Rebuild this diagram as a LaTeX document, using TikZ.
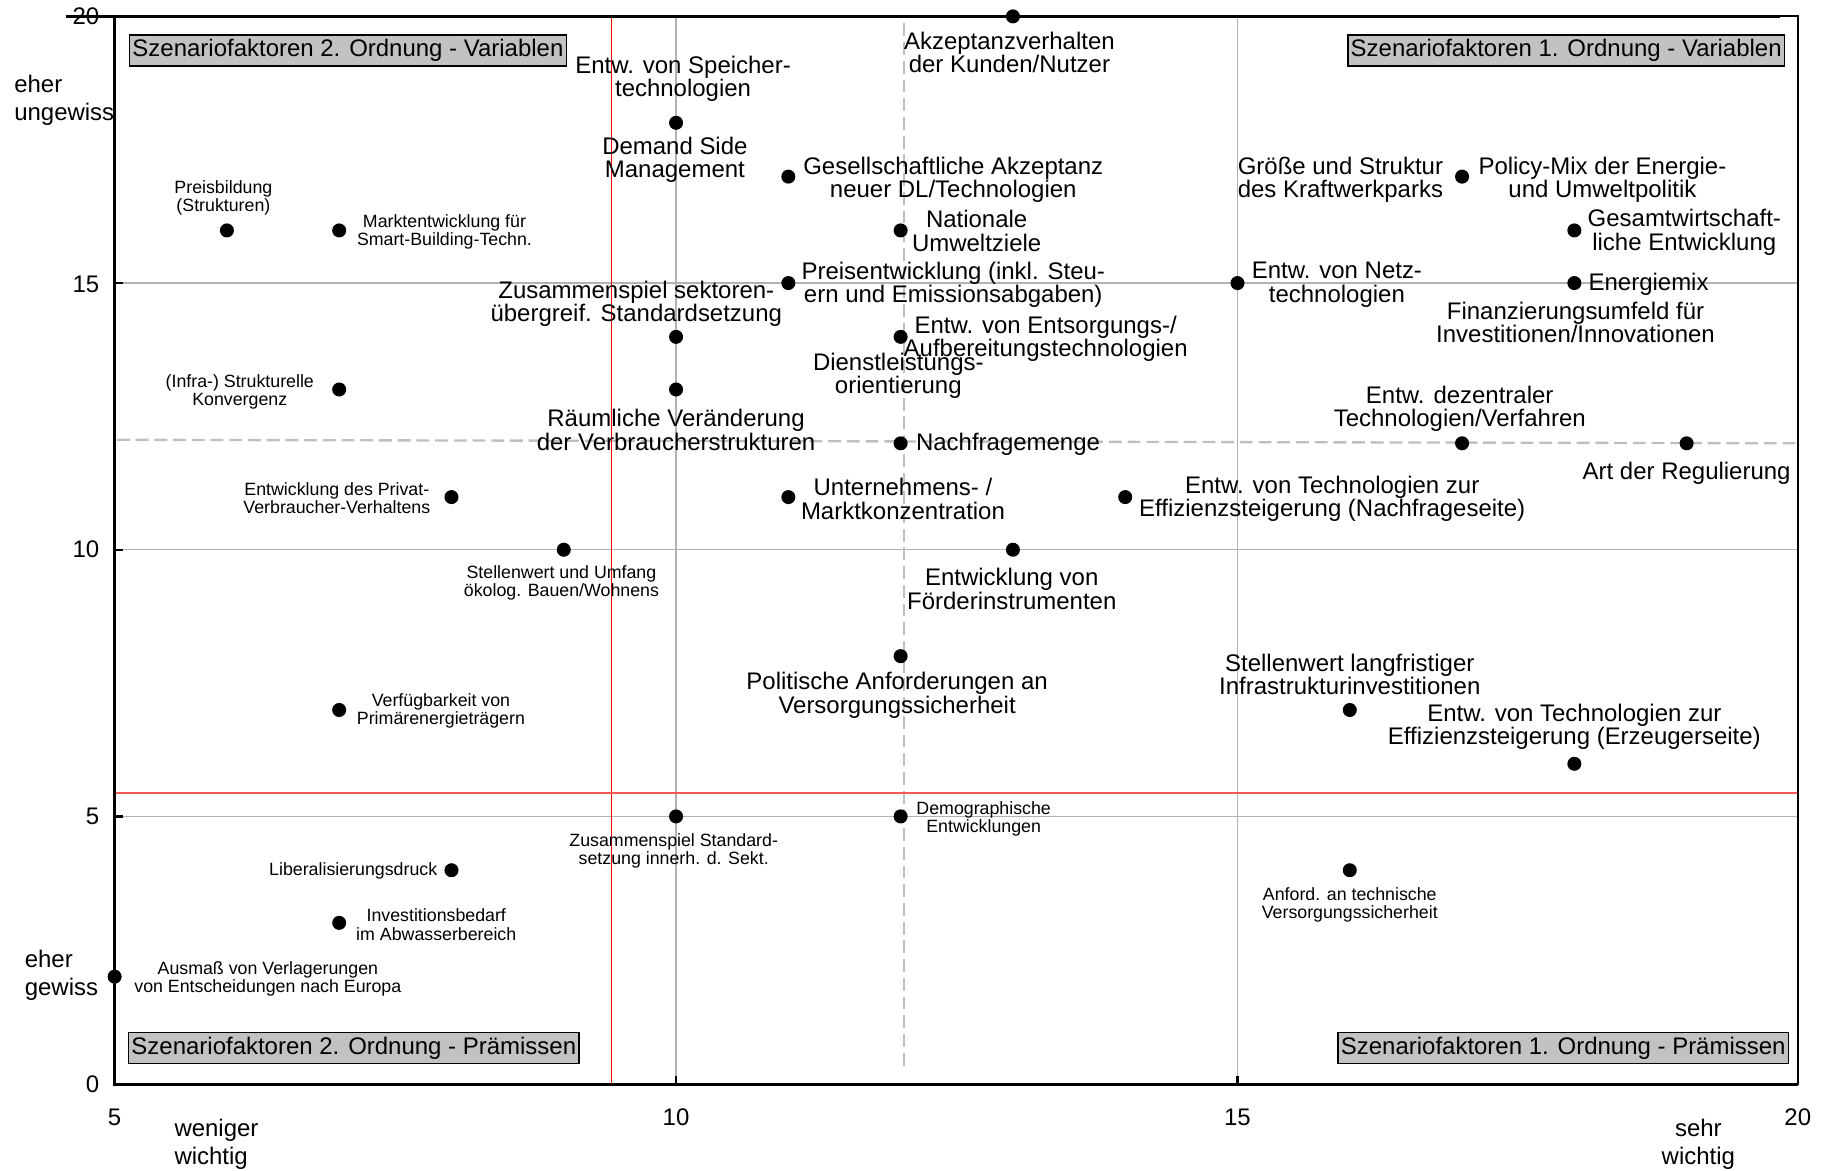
\documentclass[tikz,border=0pt]{standalone}
\usepackage{fontspec}
\setmainfont{Liberation Sans}
\begin{document}
\lineskiplimit=-30pt
\begin{tikzpicture}[x=1pt,y=-1pt,
  bigtxt/.style={font=\fontsize{20.5}{20}\selectfont, align=center, inner sep=0pt},
  smalltxt/.style={font=\fontsize{15.2}{15.5}\selectfont, align=center, inner sep=0pt},
  axistxt/.style={font=\fontsize{20.5}{24}\selectfont, inner sep=0pt},
  ticktxt/.style={font=\fontsize{20.5}{20}\selectfont, inner sep=0pt},
  dot/.style={circle, fill=black, inner sep=0pt, minimum size=12pt},
  quadbox/.style={draw=black, line width=1.3pt, fill=black!24, font=\fontsize{20.5}{20}\selectfont,
    text height=15pt, text depth=4.5pt, inner xsep=2.5pt, inner ysep=3.5pt},
  gridln/.style={draw=black!30, line width=1.2pt},
  dashln/.style={draw=black!25, line width=2pt, dash pattern=on 11pt off 5pt},
]
\useasboundingbox (0,0) rectangle (1568,1001);

% grid lines at 10/15 and 5/10/15
\draw[gridln] (578,14) -- (578,927);
\draw[gridln] (1058,14) -- (1058,927);
\draw[gridln] (98,242) -- (1537,242);
\draw[gridln] (98,470) -- (1537,470);
\draw[gridln] (98,698) -- (1537,698);

% mean lines (dashed)
\draw[dashln] (773,20) -- (773,915);
\draw[dashln] (100,376) -- (1537,379);

% threshold lines
\draw[draw=red, line width=1.2pt] (523,14) -- (523,927);
\draw[draw=red!65, line width=1.6pt] (98,678) -- (1537,678);

% frame and axes
\draw[line width=1.6pt] (98,14) rectangle (1537,927);
\draw[line width=3pt] (56,14) -- (1522,14);
\draw[line width=3pt] (98,14) -- (98,927) -- (1537,927);
\foreach \yy in {242,470,698} \draw[line width=2pt] (98,\yy) -- (105,\yy);
\foreach \xx in {578,1058} \draw[line width=2pt] (\xx,927) -- (\xx,920);

% tick labels
\node[ticktxt, anchor=east] (y20) at (85,14) {20};
\node[ticktxt, anchor=east] (y15) at (85,243) {15};
\node[ticktxt, anchor=east] (y10) at (85,470) {10};
\node[ticktxt, anchor=east] (y5) at (85,698) {5};
\node[ticktxt, anchor=east] (y0) at (85,927) {0};
\node[ticktxt] (x5) at (98,955) {5};
\node[ticktxt] (x10) at (578,955) {10};
\node[ticktxt] (x15) at (1058,955) {15};
\node[ticktxt] (x20) at (1537,955) {20};

% axis descriptions
\node[axistxt, align=left, anchor=west] (ungewiss) at (12,85.5) {eher\\ungewiss};
\node[axistxt, align=left, anchor=west] (gewiss) at (21,834) {eher\\gewiss};
\node[axistxt, align=left, anchor=west] (weniger) at (149,978) {weniger\\wichtig};
\node[axistxt, align=center] (sehr) at (1452,978) {sehr\\wichtig};

% quadrant captions
\node[quadbox] (q2v) at (297.5,43) {Szenariofaktoren 2. Ordnung - Variablen};
\node[quadbox] (q1v) at (1339,43) {Szenariofaktoren 1. Ordnung - Variablen};
\node[quadbox] (q2p) at (302.5,896) {Szenariofaktoren 2. Ordnung - Prämissen};
\node[quadbox] (q1p) at (1336.5,896) {Szenariofaktoren 1. Ordnung - Prämissen};

% factor points
\node[dot] (p1) at (866,14) {};
\node[dot] (p2) at (578,105) {};
\node[dot] (p3) at (674,151) {};
\node[dot] (p4) at (770,197) {};
\node[dot] (p5) at (674,242) {};
\node[dot] (p6) at (578,288) {};
\node[dot] (p7) at (770,288) {};
\node[dot] (p8) at (578,333) {};
\node[dot] (p9) at (770,379) {};
\node[dot] (p10) at (674,425) {};
\node[dot] (p11) at (962,425) {};
\node[dot] (p12) at (866,470) {};
\node[dot] (p13) at (770,561) {};
\node[dot] (p14) at (1154,607) {};
\node[dot] (p15) at (1346,653) {};
\node[dot] (p16) at (1250,151) {};
\node[dot] (p17) at (1346,197) {};
\node[dot] (p18) at (1058,242) {};
\node[dot] (p19) at (1346,242) {};
\node[dot] (p20) at (1250,379) {};
\node[dot] (p21) at (1442,379) {};
\node[dot] (p22) at (194,197) {};
\node[dot] (p23) at (290,197) {};
\node[dot] (p24) at (290,333) {};
\node[dot] (p25) at (386,425) {};
\node[dot] (p26) at (482,470) {};
\node[dot] (p27) at (290,607) {};
\node[dot] (p28) at (578,698) {};
\node[dot] (p29) at (770,698) {};
\node[dot] (p30) at (386,744) {};
\node[dot] (p31) at (290,789) {};
\node[dot] (p32) at (98,835) {};
\node[dot] (p33) at (1154,744) {};

% labels, large
\node[bigtxt] (l1) at (863,45) {Akzeptanzverhalten\\der Kunden/Nutzer};
\node[bigtxt] (l2) at (584,67.5) {Entw. von Speicher-\\technologien};
\node[bigtxt] (l3) at (577,136.5) {Demand Side\\Management};
\node[bigtxt] (l4) at (815,153.5) {Gesellschaftliche Akzeptanz\\neuer DL/Technologien};
\node[bigtxt] (l5) at (835,197.5) {Nationale\\Umweltziele};
\node[bigtxt] (l6) at (815,243.5) {Preisentwicklung (inkl. Steu-\\ern und Emissionsabgaben)};
\node[bigtxt] (l7) at (544,259.5) {Zusammenspiel sektoren-\\übergreif. Standardsetzung};
\node[bigtxt] (l8) at (894,289.5) {Entw. von Entsorgungs-/\\Aufbereitungstechnologien};
\node[bigtxt] (l9) at (768,321.5) {Dienstleistungs-\\orientierung};
\node[bigtxt] (l10) at (578,367.5) {Räumliche Veränderung\\der Verbraucherstrukturen};
\node[bigtxt, anchor=west] (l11) at (783,380) {Nachfragemenge};
\node[bigtxt] (l12) at (772,426.5) {Unternehmens- /\\Marktkonzentration};
\node[bigtxt] (l13) at (1139,426.5) {Entw. von Technologien zur\\Effizienzsteigerung (Nachfrageseite)};
\node[bigtxt] (l14) at (865,503.5) {Entwicklung von\\Förderinstrumenten};
\node[bigtxt] (l15) at (767,594.5) {Politische Anforderungen an\\Versorgungssicherheit};
\node[bigtxt] (l16) at (1154,576.5) {Stellenwert langfristiger\\Infrastrukturinvestitionen};
\node[bigtxt] (l17) at (1346,621.5) {Entw. von Technologien zur\\Effizienzsteigerung (Erzeugerseite)};
\node[bigtxt] (l18) at (1146,153.5) {Größe und Struktur\\des Kraftwerkparks};
\node[bigtxt] (l19) at (1370,153.5) {Policy-Mix der Energie-\\und Umweltpolitik};
\node[bigtxt] (l20) at (1440,198.5) {Gesamtwirtschaft-\\liche Entwicklung};
\node[bigtxt] (l21) at (1143,243.5) {Entw. von Netz-\\technologien};
\node[bigtxt, anchor=west] (l22) at (1358,243) {Energiemix};
\node[bigtxt] (l23) at (1347,275.5) {Finanzierungsumfeld für\\Investitionen/Innovationen};
\node[bigtxt] (l24) at (1248,349.5) {Entw. dezentraler\\Technologien/Verfahren};
\node[bigtxt] (l25) at (1442,405) {Art der Regulierung};

% labels, small
\node[smalltxt] (s1) at (191,169.5) {Preisbildung\\(Strukturen)};
\node[smalltxt] (s2) at (380,198.5) {Marktentwicklung für\\Smart-Building-Techn.};
\node[smalltxt] (s3) at (205,335) {(Infra-) Strukturelle\\Konvergenz};
\node[smalltxt] (s4) at (288,426) {Entwicklung des Privat-\\Verbraucher-Verhaltens};
\node[smalltxt] (s5) at (480,498.5) {Stellenwert und Umfang\\ökolog. Bauen/Wohnens};
\node[smalltxt] (s6) at (377,608) {Verfügbarkeit von\\Primärenergieträgern};
\node[smalltxt] (s7) at (576,727.5) {Zusammenspiel Standard-\\setzung innerh. d. Sekt.};
\node[smalltxt] (s8) at (841,700) {Demographische\\Entwicklungen};
\node[smalltxt, anchor=east] (s9) at (374,745) {Liberalisierungsdruck};
\node[smalltxt] (s10) at (373,790.5) {Investitionsbedarf\\im Abwasserbereich};
\node[smalltxt] (s11) at (229,837) {Ausmaß von Verlagerungen\\von Entscheidungen nach Europa};
\node[smalltxt] (s12) at (1154,774) {Anford. an technische\\Versorgungssicherheit};
\end{tikzpicture}
\end{document}
